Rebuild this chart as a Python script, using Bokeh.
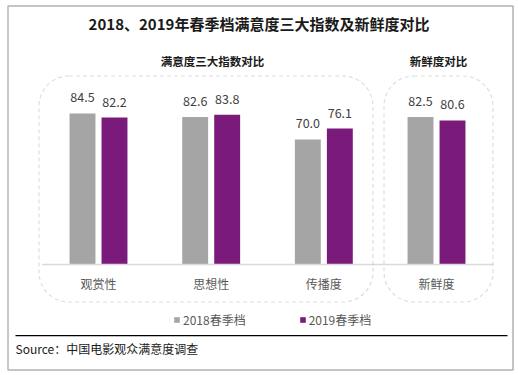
from bokeh.plotting import figure
from bokeh.models import (ColumnDataSource, Label, BoxAnnotation, Legend, LegendItem, Range1d)
from bokeh.core.properties import value
from bokeh.embed import file_html
from bokeh.resources import INLINE

# ---- data ----
categories = ["观赏性", "思想性", "传播度", "新鲜度"]
series_names = ["2018春季档", "2019春季档"]
values_2018 = [84.5, 82.6, 70.0, 82.5]
values_2019 = [82.2, 83.8, 76.1, 80.6]

title_text = "2018、2019年春季档满意度三大指数及新鲜度对比"
group_titles = ["满意度三大指数对比", "新鲜度对比"]
source_text = "Source：中国电影观众满意度调查"

FONT = "Noto Sans CJK SC"
GRAY = "#A5A5A5"
PURPLE = "#7A1A7A"

idx = list(range(len(categories)))
src = ColumnDataSource(dict(
    idx=idx,
    cat=categories,
    zero=[0] * len(categories),
    v18=values_2018,
    v19=values_2019,
    l18=[f"{v:.1f}" for v in values_2018],
    l19=[f"{v:.1f}" for v in values_2019],
))

W, H = 518, 375
# page-pixel ranges for decorations (y grows downward)
p = figure(width=W, height=H, x_range=Range1d(0, W), y_range=Range1d(H, 0),
           output_backend="svg", toolbar_location=None,
           x_axis_location=None, y_axis_location=None, min_border=0)
p.outline_line_color = None
p.xgrid.visible = False
p.ygrid.visible = False
p.background_fill_color = "white"
p.border_fill_color = "white"

# category / value scales for the bars
CAT_PX = 112.67         # pixels per category
CAT0_PX = 98.0          # pixel x of the first category centre
BASE_PX = 264.0         # pixel y of the value 0 baseline
VAL_PX = 1.787          # pixels per value unit
p.extra_x_ranges = {"cat": Range1d(-CAT0_PX / CAT_PX, (W - CAT0_PX) / CAT_PX)}
p.extra_y_ranges = {"val": Range1d(-(H - BASE_PX) / VAL_PX, BASE_PX / VAL_PX)}

off = 0.142
bw = 0.23
src.data["x18"] = [i - off for i in idx]
src.data["x19"] = [i + off for i in idx]

r18 = p.vbar(x="x18", top="v18", bottom=0, width=bw, source=src,
             fill_color=GRAY, line_color=None, x_range_name="cat", y_range_name="val")
r19 = p.vbar(x="x19", top="v19", bottom=0, width=bw, source=src,
             fill_color=PURPLE, line_color=None, x_range_name="cat", y_range_name="val")

# axis line
p.line(x=[-0.5, len(categories) - 0.5], y=[0, 0], line_color="#D9D9D9", line_width=1.5,
       x_range_name="cat", y_range_name="val")

for xf, yf, lf in (("x18", "v18", "l18"), ("x19", "v19", "l19")):
    p.text(x=xf, y=yf, text=lf, source=src, y_offset=-16, text_align="center",
           text_baseline="middle", text_font=value(FONT), text_font_size="12.5px",
           text_color="#404040", x_range_name="cat", y_range_name="val")

# category labels
p.text(x="idx", y="zero", text="cat", source=src, y_offset=19, text_align="center",
       text_baseline="middle", text_font=value(FONT), text_font_size="12px",
       text_color="#595959", x_range_name="cat", y_range_name="val")

def lab(x, y, text, size, bold=False, color="#1a1a1a", align="center"):
    return Label(x=x, y=y, text=text, text_align=align, text_baseline="middle",
                 text_font=FONT, text_font_size=size,
                 text_font_style="bold" if bold else "normal", text_color=color)

p.add_layout(lab(258.5, 23, title_text, "15px", bold=True))
p.add_layout(lab(212, 60, group_titles[0], "11.5px", bold=True))
p.add_layout(lab(438, 60, group_titles[1], "11.5px", bold=True))
p.add_layout(lab(15, 348, source_text, "12px", align="left"))

def box(l, r, t, b, **kw):
    return BoxAnnotation(left=l, right=r, top=t, bottom=b, **kw)

p.add_layout(box(38.5, 372.5, 75.5, 301.5, fill_alpha=0, line_color="#8C8C8C", line_width=1.1,
                 line_dash="4 3", border_radius=30))
p.add_layout(box(383.5, 492.5, 75.5, 301.5, fill_alpha=0, line_color="#8C8C8C", line_width=1.1,
                 line_dash="4 3", border_radius=30))
p.add_layout(box(15, 507, 334.5, 335.8, fill_color="black", fill_alpha=1, line_color=None))
p.add_layout(box(7.5, 512.5, 5.5, 369.5, fill_alpha=0, line_color="black", line_width=1.5))

legend = Legend(items=[LegendItem(label=series_names[0], renderers=[r18]),
                       LegendItem(label=series_names[1], renderers=[r19])],
                orientation="horizontal", location=(173, 47),
                glyph_width=7, glyph_height=7, label_standoff=3, spacing=53,
                padding=0, margin=0, border_line_color=None, background_fill_alpha=0,
                label_text_font=FONT, label_text_font_size="12px",
                label_text_color="#595959", label_height=7)
p.add_layout(legend, "center")

open("out.html", "w").write(file_html(p, INLINE))
